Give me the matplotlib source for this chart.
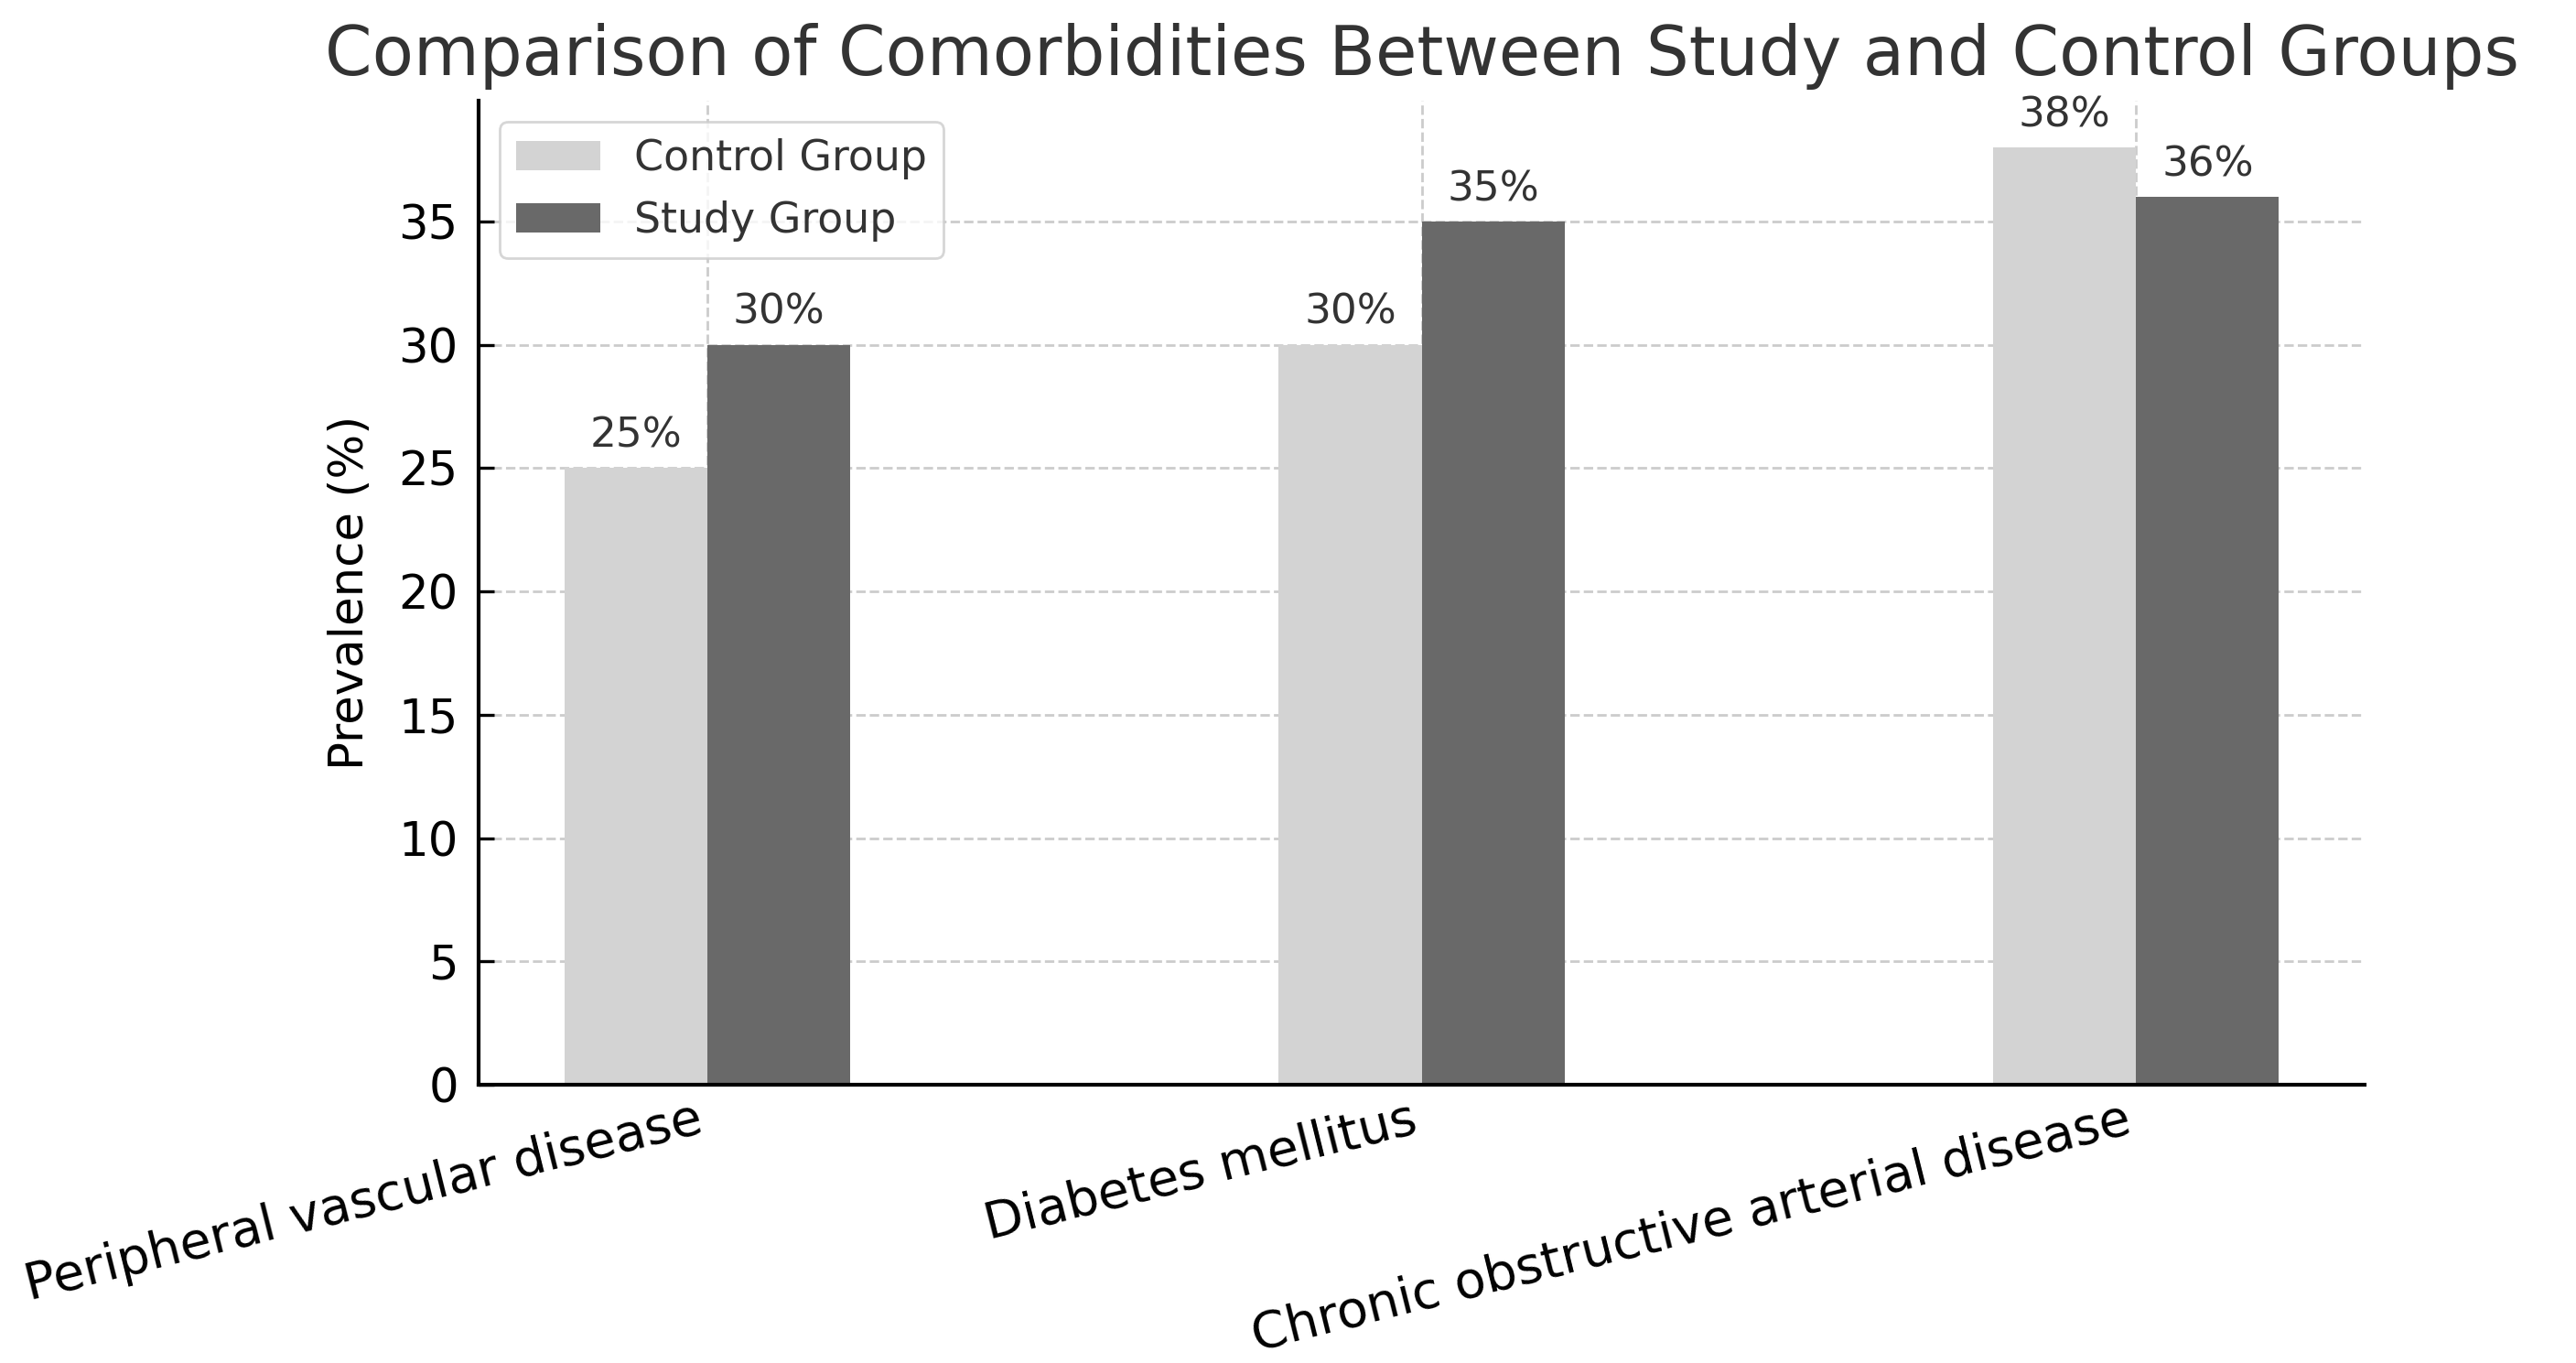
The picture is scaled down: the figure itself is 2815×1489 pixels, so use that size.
import matplotlib
matplotlib.use("Agg")
import matplotlib.pyplot as plt
import numpy as np

categories = ["Peripheral vascular disease", "Diabetes mellitus", "Chronic obstructive arterial disease"]
control = [25, 30, 38]
study = [30, 35, 36]
series_names = ["Control Group", "Study Group"]

fig = plt.figure(figsize=(14.075, 7.445), dpi=200)
ax = fig.add_axes([0.1858, 0.2042, 0.7322, 0.7220])

x = np.arange(len(categories))
w = 0.2
b1 = ax.bar(x - w/2, control, w, color="#d3d3d3", label=series_names[0], zorder=2)
b2 = ax.bar(x + w/2, study, w, color="#696969", label=series_names[1], zorder=2)

for bars, vals in ((b1, control), (b2, study)):
    for r, v in zip(bars, vals):
        ax.annotate(f"{v}%", (r.get_x() + r.get_width()/2, r.get_height()),
                    xytext=(0, 5), textcoords="offset points", ha="center", va="bottom",
                    fontsize=16.3, color="#333333")

ax.set_xticks(x)
ax.set_xticklabels(categories, rotation=14, ha="right", fontsize=20, rotation_mode="default")
ax.tick_params(axis="y", labelsize=18.5, direction="in", length=6, width=1.2, pad=8)
ax.tick_params(axis="x", direction="in", length=6, width=1.2, pad=4)
ax.set_ylabel("Prevalence (%)", fontsize=18.5, labelpad=10)
ax.set_title("Comparison of Comorbidities Between Study and Control Groups", fontsize=26.6, color="#333333", pad=10)
ax.grid(True, linestyle="--", color="#cccccc", linewidth=1, zorder=0)
ax.set_axisbelow(True)
for s in ("top", "right"):
    ax.spines[s].set_visible(False)
for s in ("left", "bottom"):
    ax.spines[s].set_linewidth(1.5)
leg = ax.legend(loc="upper left", fontsize=16.5, framealpha=0.8, edgecolor="#cccccc")
for t in leg.get_texts():
    t.set_color("#333333")

fig.savefig("out.png", dpi=200)
